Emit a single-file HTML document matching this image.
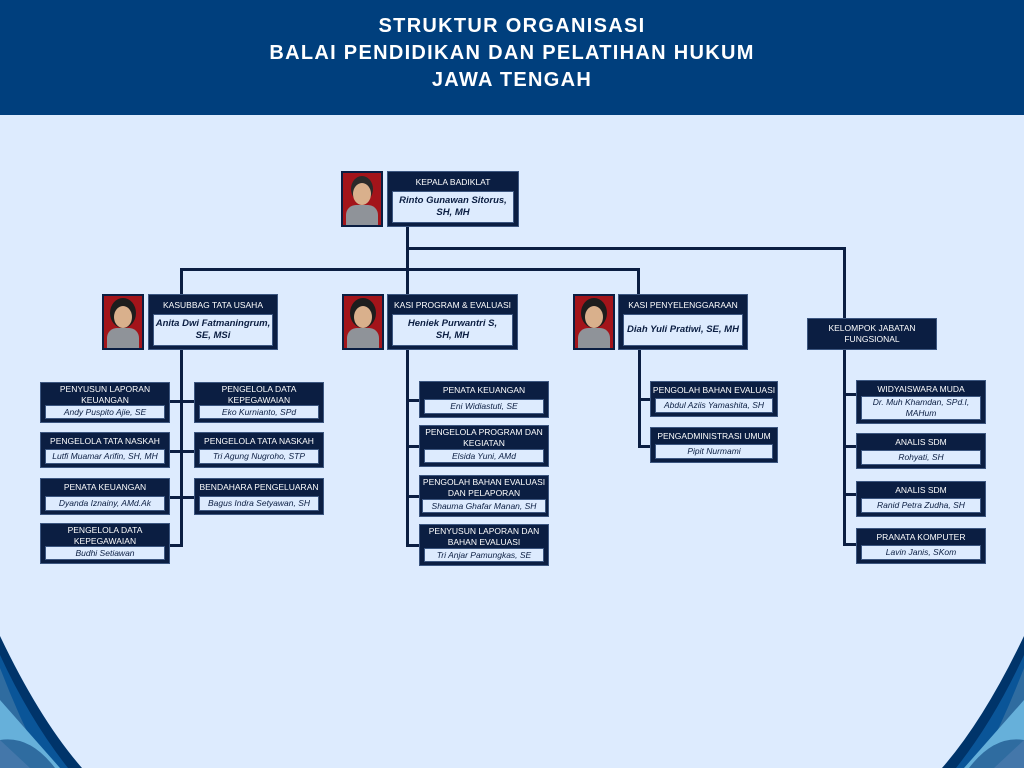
<!DOCTYPE html>
<html><head><meta charset="utf-8"><style>
*{margin:0;padding:0;box-sizing:border-box}
body{width:1024px;height:768px;position:relative;overflow:hidden;background:#ddebfe;font-family:"Liberation Sans",sans-serif}
.hdr{position:absolute;left:0;top:0;width:1024px;height:115px;background:#003f7d;color:#fff;text-align:center;font-weight:bold;font-size:20px;line-height:27px;padding-top:13px;letter-spacing:1.3px}
.b{position:absolute;background:#0b1e42;color:#fff;font-size:8.5px;text-align:center;line-height:11px;border:1px solid #3c5680;white-space:nowrap}
.t{display:flex;align-items:center;justify-content:center}
.n{position:absolute;left:4px;right:4px;bottom:3px;background:#ddebfe;color:#0b1e42;font-style:italic;font-size:8.5px;display:flex;align-items:center;justify-content:center;line-height:11px;border:1px solid #3c5680;white-space:nowrap}
.big .n{font-weight:bold;font-size:9.5px;line-height:12px}
.l{position:absolute;background:#0b1e42}
.p{position:absolute;width:42px;height:56px;background:#0b1e42;padding:2px}
.p div{width:100%;height:100%;background:#a3141a;position:relative;overflow:hidden}
.p i{position:absolute;left:10px;top:10px;width:18px;height:22px;border-radius:50%;background:#d9b08c}
.p b{position:absolute;left:3px;top:32px;width:32px;height:24px;border-radius:10px 10px 0 0;background:#8f9399}
.p.h i{box-shadow:0 -4px 0 4px #1d1d1d}
</style></head><body>
<div class="hdr">STRUKTUR ORGANISASI<br>BALAI PENDIDIKAN DAN PELATIHAN HUKUM<br>JAWA TENGAH</div>

<svg style="position:absolute;left:0;top:0" width="1024" height="768">
<g>
<path d="M0 636 Q40 720 82 768 L0 768Z" fill="#00346a"/>
<path d="M0 655 Q30 720 68 768 L0 768Z" fill="#0a5598"/>
<path d="M0 668 Q20 720 45 768 L0 768Z" fill="#2f6ca0"/>
<path d="M0 700 L60 768 L0 768Z" fill="#66b0da"/>
<path d="M0 740 Q30 735 55 768 L0 768Z" fill="#2f6ca0"/>
<path d="M0 740 L30 768 L0 768Z" fill="#4477aa"/>
</g>
<g transform="translate(1024,0) scale(-1,1)">
<path d="M0 636 Q40 720 82 768 L0 768Z" fill="#00346a"/>
<path d="M0 655 Q30 720 68 768 L0 768Z" fill="#0a5598"/>
<path d="M0 668 Q20 720 45 768 L0 768Z" fill="#2f6ca0"/>
<path d="M0 700 L60 768 L0 768Z" fill="#66b0da"/>
<path d="M0 740 Q30 735 55 768 L0 768Z" fill="#2f6ca0"/>
<path d="M0 740 L30 768 L0 768Z" fill="#4477aa"/>
</g>
</svg>

<div class="l" style="left:406px;top:227px;width:3px;height:320px"></div>
<div class="l" style="left:406px;top:247px;width:440px;height:3px"></div>
<div class="l" style="left:180px;top:268px;width:460px;height:3px"></div>
<div class="l" style="left:180px;top:268px;width:3px;height:279px"></div>
<div class="l" style="left:637px;top:268px;width:3px;height:27px"></div>
<div class="l" style="left:638px;top:350px;width:3px;height:98px"></div>
<div class="l" style="left:843px;top:247px;width:3px;height:299px"></div>
<div class="l" style="left:170px;top:400px;width:24px;height:3px"></div>
<div class="l" style="left:170px;top:450px;width:24px;height:3px"></div>
<div class="l" style="left:170px;top:496px;width:24px;height:3px"></div>
<div class="l" style="left:170px;top:544px;width:12px;height:3px"></div>
<div class="l" style="left:407px;top:399px;width:12px;height:3px"></div>
<div class="l" style="left:407px;top:445px;width:12px;height:3px"></div>
<div class="l" style="left:407px;top:495px;width:12px;height:3px"></div>
<div class="l" style="left:407px;top:544px;width:12px;height:3px"></div>
<div class="l" style="left:638px;top:398px;width:12px;height:3px"></div>
<div class="l" style="left:638px;top:445px;width:12px;height:3px"></div>
<div class="l" style="left:844px;top:393px;width:12px;height:3px"></div>
<div class="l" style="left:844px;top:445px;width:12px;height:3px"></div>
<div class="l" style="left:844px;top:493px;width:12px;height:3px"></div>
<div class="l" style="left:844px;top:543px;width:12px;height:3px"></div>

<div class="p" style="left:341px;top:171px"><div><i style="box-shadow:0 -5px 0 2px #2a2a2a"></i><b></b></div></div>
<div class="p h" style="left:102px;top:294px"><div><i></i><b></b></div></div>
<div class="p h" style="left:342px;top:294px"><div><i></i><b></b></div></div>
<div class="p h" style="left:573px;top:294px"><div><i></i><b></b></div></div>

<div class="b big" style="left:387px;top:171px;width:132px;height:56px"><div class="t" style="height:20px">KEPALA BADIKLAT</div><div class="n" style="height:32px">Rinto Gunawan Sitorus,<br>SH, MH</div></div>
<div class="b big" style="left:148px;top:294px;width:130px;height:56px"><div class="t" style="height:20px">KASUBBAG TATA USAHA</div><div class="n" style="height:32px">Anita Dwi Fatmaningrum,<br>SE, MSi</div></div>
<div class="b big" style="left:387px;top:294px;width:131px;height:56px"><div class="t" style="height:20px">KASI PROGRAM &amp; EVALUASI</div><div class="n" style="height:32px">Heniek Purwantri S,<br>SH, MH</div></div>
<div class="b big" style="left:618px;top:294px;width:130px;height:56px"><div class="t" style="height:20px">KASI PENYELENGGARAAN</div><div class="n" style="height:32px">Diah Yuli Pratiwi, SE, MH</div></div>
<div class="b t" style="left:807px;top:318px;width:130px;height:32px">KELOMPOK JABATAN<br>FUNGSIONAL</div>

<div class="b" style="left:40px;top:382px;width:130px;height:41px"><div class="t" style="height:24px">PENYUSUN LAPORAN<br>KEUANGAN</div><div class="n" style="height:14px">Andy Puspito Ajie, SE</div></div>
<div class="b" style="left:194px;top:382px;width:130px;height:41px"><div class="t" style="height:24px">PENGELOLA DATA<br>KEPEGAWAIAN</div><div class="n" style="height:14px">Eko Kurnianto, SPd</div></div>
<div class="b" style="left:40px;top:432px;width:130px;height:36px"><div class="t" style="height:17px">PENGELOLA TATA NASKAH</div><div class="n" style="height:15px">Lutfi Muamar Arifin, SH, MH</div></div>
<div class="b" style="left:194px;top:432px;width:130px;height:36px"><div class="t" style="height:17px">PENGELOLA TATA NASKAH</div><div class="n" style="height:15px">Tri Agung Nugroho, STP</div></div>
<div class="b" style="left:40px;top:478px;width:130px;height:37px"><div class="t" style="height:17px">PENATA KEUANGAN</div><div class="n" style="height:15px">Dyanda Iznainy, AMd.Ak</div></div>
<div class="b" style="left:194px;top:478px;width:130px;height:37px"><div class="t" style="height:17px">BENDAHARA PENGELUARAN</div><div class="n" style="height:15px">Bagus Indra Setyawan, SH</div></div>
<div class="b" style="left:40px;top:523px;width:130px;height:41px"><div class="t" style="height:24px">PENGELOLA DATA<br>KEPEGAWAIAN</div><div class="n" style="height:14px">Budhi Setiawan</div></div>

<div class="b" style="left:419px;top:381px;width:130px;height:37px"><div class="t" style="height:17px">PENATA KEUANGAN</div><div class="n" style="height:15px">Eni Widiastuti, SE</div></div>
<div class="b" style="left:419px;top:425px;width:130px;height:42px"><div class="t" style="height:24px">PENGELOLA PROGRAM DAN<br>KEGIATAN</div><div class="n" style="height:14px">Elsida Yuni, AMd</div></div>
<div class="b" style="left:419px;top:475px;width:130px;height:42px"><div class="t" style="height:24px">PENGOLAH BAHAN EVALUASI<br>DAN PELAPORAN</div><div class="n" style="height:14px;left:2px;right:2px">Shauma Ghafar Manan, SH</div></div>
<div class="b" style="left:419px;top:524px;width:130px;height:42px"><div class="t" style="height:24px">PENYUSUN LAPORAN DAN<br>BAHAN EVALUASI</div><div class="n" style="height:14px">Tri Anjar Pamungkas, SE</div></div>

<div class="b" style="left:650px;top:381px;width:128px;height:36px"><div class="t" style="height:17px">PENGOLAH BAHAN EVALUASI</div><div class="n" style="height:15px">Abdul Aziis Yamashita, SH</div></div>
<div class="b" style="left:650px;top:427px;width:128px;height:36px"><div class="t" style="height:17px">PENGADMINISTRASI UMUM</div><div class="n" style="height:15px">Pipit Nurmami</div></div>

<div class="b" style="left:856px;top:380px;width:130px;height:44px"><div class="t" style="height:16px">WIDYAISWARA MUDA</div><div class="n" style="height:24px">Dr. Muh Khamdan, SPd.I,<br>MAHum</div></div>
<div class="b" style="left:856px;top:433px;width:130px;height:36px"><div class="t" style="height:17px">ANALIS SDM</div><div class="n" style="height:15px">Rohyati, SH</div></div>
<div class="b" style="left:856px;top:481px;width:130px;height:36px"><div class="t" style="height:17px">ANALIS SDM</div><div class="n" style="height:15px">Ranid Petra Zudha, SH</div></div>
<div class="b" style="left:856px;top:528px;width:130px;height:36px"><div class="t" style="height:17px">PRANATA KOMPUTER</div><div class="n" style="height:15px">Lavin Janis, SKom</div></div>
</body></html>
